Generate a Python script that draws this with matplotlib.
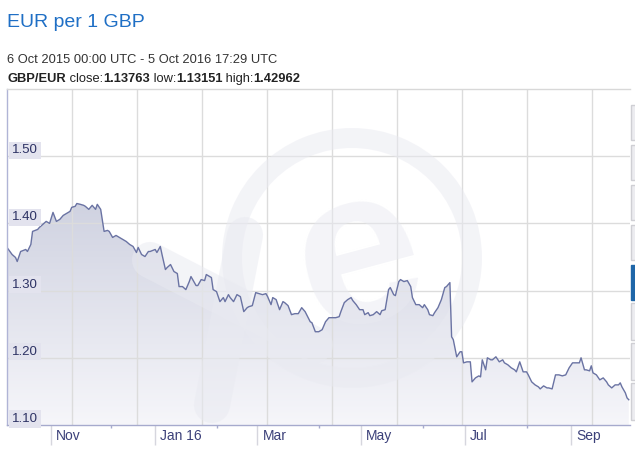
import numpy as np
import pandas as pd
import matplotlib
matplotlib.use('Agg')
import matplotlib.pyplot as plt
import matplotlib.dates as mdates
from matplotlib.patches import Rectangle, Wedge, Polygon
from matplotlib.lines import Line2D
from matplotlib.text import OffsetFrom
from matplotlib.transforms import ScaledTranslation, blended_transform_factory
from matplotlib.colors import LinearSegmentedColormap

plt.rcParams['font.family'] = ['Liberation Sans', 'DejaVu Sans']

# ---------------- data ----------------
start_date = '2015-10-06'
span_days = 365.73
day_offsets = [0, 3, 5, 6, 8, 11, 12, 14, 15, 18, 19, 21, 23, 25, 27, 29, 31, 33, 35, 37,
               38, 40, 41, 43, 45, 46, 48, 50, 52, 53, 55, 57, 59, 60, 62, 64, 66, 68, 70, 72,
               74, 76, 77, 79, 81, 83, 84, 87, 88, 90, 91, 93, 94, 96, 98, 100, 101, 103, 105, 107,
               108, 110, 111, 112, 114, 116, 117, 120, 121, 123, 125, 127, 128, 130, 131, 133, 135, 137, 139, 141,
               142, 144, 146, 148, 150, 152, 153, 155, 156, 158, 160, 162, 163, 165, 167, 169, 171, 173, 175, 178,
               179, 181, 183, 185, 187, 189, 191, 193, 195, 196, 198, 200, 202, 203, 205, 207, 209, 210, 212, 213,
               215, 217, 219, 220, 222, 224, 225, 227, 228, 230, 231, 233, 235, 237, 238, 240, 242, 244, 245, 247,
               248, 250, 251, 253, 255, 257, 258, 260, 261, 262, 264, 266, 267, 268, 270, 272, 273, 275, 277, 278,
               279, 281, 282, 284, 285, 287, 289, 291, 292, 294, 296, 298, 299, 301, 303, 305, 306, 308, 310, 312,
               313, 315, 317, 318, 320, 322, 324, 326, 328, 330, 332, 334, 336, 337, 338, 339, 340, 342, 343, 344,
               346, 348, 350, 352, 353, 355, 357, 359, 360, 361, 363, 364, 365]
rates = [1.3642, 1.3537, 1.3493, 1.3433, 1.3582, 1.3612, 1.3582, 1.3687, 1.3881, 1.3910,
         1.3940, 1.3985, 1.4030, 1.4000, 1.4164, 1.4030, 1.4060, 1.4119, 1.4149, 1.4179,
         1.4239, 1.4254, 1.4296, 1.4284, 1.4269, 1.4254, 1.4209, 1.4269, 1.4209, 1.4284,
         1.4209, 1.3881, 1.3896, 1.3881, 1.3791, 1.3821, 1.3791, 1.3761, 1.3731, 1.3687,
         1.3657, 1.3567, 1.3642, 1.3537, 1.3507, 1.3582, 1.3582, 1.3612, 1.3567, 1.3657,
         1.3537, 1.3313, 1.3343, 1.3388, 1.3284, 1.3254, 1.3060, 1.3060, 1.3015, 1.3134,
         1.3209, 1.3119, 1.3075, 1.3075, 1.3164, 1.3149, 1.3239, 1.3194, 1.3015, 1.2985,
         1.2836, 1.2896, 1.2836, 1.2940, 1.2896, 1.2836, 1.2940, 1.2910, 1.2687, 1.2746,
         1.2761, 1.2776, 1.2970, 1.2955, 1.2940, 1.2955, 1.2910, 1.2791, 1.2896, 1.2866,
         1.2716, 1.2836, 1.2821, 1.2776, 1.2642, 1.2657, 1.2657, 1.2746, 1.2687, 1.2537,
         1.2522, 1.2388, 1.2388, 1.2418, 1.2537, 1.2597, 1.2597, 1.2597, 1.2612, 1.2687,
         1.2821, 1.2866, 1.2896, 1.2851, 1.2791, 1.2716, 1.2716, 1.2642, 1.2672, 1.2627,
         1.2642, 1.2687, 1.2642, 1.2701, 1.2716, 1.3015, 1.3045, 1.2940, 1.2925, 1.3134,
         1.3164, 1.3134, 1.3149, 1.3060, 1.2896, 1.2791, 1.2791, 1.2746, 1.2791, 1.2716,
         1.2642, 1.2627, 1.2672, 1.2746, 1.2866, 1.3045, 1.3060, 1.3119, 1.2313, 1.2269,
         1.2015, 1.2090, 1.2090, 1.1925, 1.1940, 1.1940, 1.1642, 1.1701, 1.1731, 1.1716,
         1.1970, 1.1821, 1.2000, 1.1970, 1.1970, 1.2015, 1.1940, 1.1970, 1.1925, 1.1896,
         1.1851, 1.1821, 1.1791, 1.1940, 1.1791, 1.1791, 1.1746, 1.1642, 1.1597, 1.1567,
         1.1537, 1.1582, 1.1552, 1.1552, 1.1537, 1.1746, 1.1746, 1.1731, 1.1746, 1.1851,
         1.1925, 1.1925, 1.1925, 1.2000, 1.1910, 1.1821, 1.1821, 1.1806, 1.1881, 1.1776,
         1.1746, 1.1672, 1.1701, 1.1642, 1.1597, 1.1552, 1.1597, 1.1597, 1.1627, 1.1567,
         1.1478, 1.1403, 1.1376]

y_ticks = [1.10, 1.20, 1.30, 1.40, 1.50]
month_ticks = ['2015-11-01', '2016-01-01', '2016-03-01', '2016-05-01', '2016-07-01', '2016-09-01']
month_labels = ['Nov', 'Jan 16', 'Mar', 'May', 'Jul', 'Sep']
minor_ticks = ['2015-12-06', '2016-02-06', '2016-04-06', '2016-06-06', '2016-08-06']

title = 'EUR per 1 GBP'
period = '6 Oct 2015 00:00 UTC - 5 Oct 2016 17:29 UTC'
pair = 'GBP/EUR'
close_rate, low_rate, high_rate = 1.13763, 1.13151, 1.42962

# ---------------- figure ----------------
W, H = 635, 450
fig = plt.figure(figsize=(W / 100, H / 100), dpi=100)
fig.patch.set_facecolor('white')
ax = fig.add_axes([7 / W, 25 / H, 623 / W, 336 / H])

t0 = mdates.date2num(pd.Timestamp(start_date))
x = mdates.date2num(pd.Timestamp(start_date) + pd.to_timedelta(day_offsets, unit='D'))
y = np.array(rates)
x0, x1 = t0, t0 + span_days
y0, y1 = 1.10, 1.60

# gradient area
poly = Polygon(np.column_stack([np.r_[x[0], x, x[-1]], np.r_[y0, y, y0]]),
               closed=True, facecolor='none', edgecolor='none')
ax.add_patch(poly)
cmap = LinearSegmentedColormap.from_list('g', ['#f6f6fa', '#bcc0d4'])
grad = np.linspace(0, 1, 256).reshape(-1, 1)
im = ax.imshow(grad, extent=[x0, x1, y0, y1], origin='lower', aspect='auto',
               cmap=cmap, zorder=1, interpolation='bilinear')
im.set_clip_path(poly)

# grid
for v in y_ticks[1:]:
    ax.axhline(v, color='#dcdcdc', lw=1, zorder=2)
for k in range(1, 10):
    ax.axvline(x0 + (x1 - x0) * k * 65 / 623, color='#dcdcdc', lw=1, zorder=2)

# watermark (xe logo, decorative)
wm_col = '#e9eaf1'
ring = Wedge((3.52, 1.92), 1.30, 0, 360, width=0.2, transform=fig.dpi_scale_trans,
             facecolor=wm_col, edgecolor='none', alpha=0.5, zorder=2.5)
ax.add_patch(ring)
ax.text(3.60, 1.88, 'e', transform=fig.dpi_scale_trans, fontsize=160, fontweight='bold',
        rotation=15, ha='center', va='center', color=wm_col, alpha=0.5, zorder=2.5, clip_on=True)
for (xa, ya), (xb, yb) in [((2.45, 2.15), (2.12, 0.45)), ((1.50, 1.90), (3.15, 1.05))]:
    ln = Line2D([xa, xb], [ya, yb], transform=fig.dpi_scale_trans, color=wm_col, alpha=0.5,
                lw=26, solid_capstyle='round', zorder=2.5)
    ax.add_line(ln)

# line
ax.plot(x, y, color='#6a73a3', lw=1.0, zorder=3)

ax.set_xlim(x0, x1)
ax.set_ylim(y0, y1)

ax.spines['right'].set_visible(False)
ax.spines['top'].set_color('#d8d8d8')
ax.spines['left'].set_color('#b0b4d6')
ax.spines['bottom'].set_color('#a6aacd')
for s in ['top', 'left', 'bottom']:
    ax.spines[s].set_linewidth(1)
    ax.spines[s].set_zorder(4)

ax.set_yticks([])
ax.set_xticks(mdates.date2num(pd.to_datetime(month_ticks)))
ax.set_xticklabels([])
ax.set_xticks(mdates.date2num(pd.to_datetime(minor_ticks)), minor=True)
ax.tick_params(axis='x', which='major', length=14.4, width=1, color='#d6d6de', direction='out')
ax.tick_params(axis='x', which='minor', length=2.2, width=1, color='#a6aacd', direction='out')

# x labels
bx = blended_transform_factory(ax.transData, ax.transAxes)
for d, lab in zip(pd.to_datetime(month_ticks), month_labels):
    ax.text(mdates.date2num(d), 0, lab,
            transform=bx + ScaledTranslation(5 / 100, -11 / 100, fig.dpi_scale_trans),
            ha='left', va='center', fontsize=10, color='#3b4079', clip_on=False)

# y labels
by = blended_transform_factory(ax.transAxes, ax.transData)
for v in y_ticks:
    ax.text(0, v, f'{v:.2f}',
            transform=by + ScaledTranslation(5 / 100, 0, fig.dpi_scale_trans),
            ha='left', va='bottom', fontsize=9.5, color='#2d3264', zorder=5,
            bbox=dict(boxstyle='square,pad=0.2', fc='#e3e3ee', ec='none'))

# header texts
fig.text(7 / W, 1 - 27 / H, title, fontsize=14, color='#1f6fc5', va='baseline', ha='left')
fig.text(7 / W, 1 - 63 / H, period, fontsize=9.3, color='#333333', va='baseline', ha='left')
parts = [(pair, True), (' close:', False), (f'{close_rate:.5f}', True),
         (' low:', False), (f'{low_rate:.5f}', True),
         (' high:', False), (f'{high_rate:.5f}', True)]
last = None
for s, b in parts:
    w = 'bold' if b else 'normal'
    if last is None:
        last = fig.text(7 / W, 1 - 82 / H, s, fontsize=9.3, color='#222222',
                        fontweight=w, va='baseline', ha='left')
    else:
        last = ax.annotate(s, xy=(0, 0), xycoords=OffsetFrom(last, (1, 0)),
                           va='bottom', ha='left', fontsize=9.3, color='#222222',
                           fontweight=w, annotation_clip=False)

# right-side controls
def prect(y_top, y_bot, fc, ec):
    fig.patches.append(Rectangle((631 / W, 1 - y_bot / H), 6 / W, (y_bot - y_top) / H,
                                 transform=fig.transFigure, facecolor=fc, edgecolor=ec,
                                 lw=1, figure=fig))
for a, b in [(105, 140), (145, 180), (185, 220), (225, 260), (303, 340), (343, 380), (383, 420)]:
    prect(a, b, '#ececf0', '#cfcfd4')
prect(265, 300, '#1f66a8', '#1f66a8')

fig.savefig('out.png', dpi=100, facecolor='white')
